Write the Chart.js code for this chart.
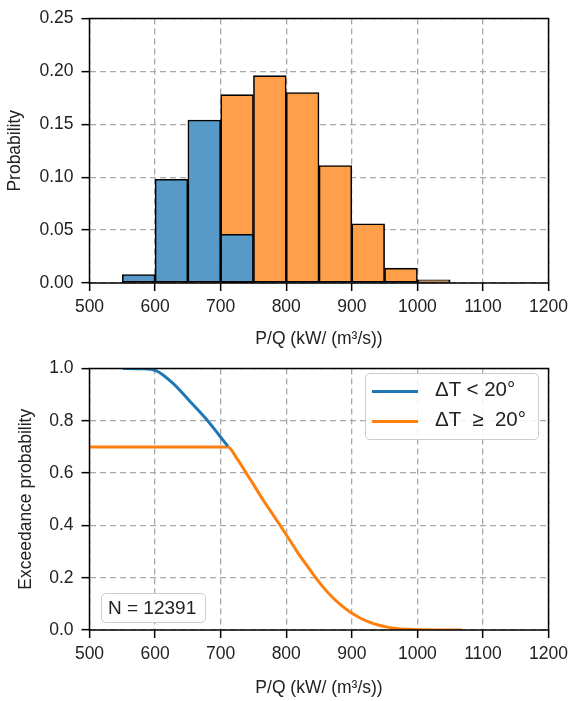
<!DOCTYPE html>
<html>
<head>
<meta charset="utf-8">
<script src="https://cdn.jsdelivr.net/npm/chart.js@4.4.0/dist/chart.umd.min.js"></script>
<style>
  body { margin: 0; background: #fff; width: 574px; height: 701px; overflow: hidden; position: relative; font-family: "Liberation Sans", Arial, sans-serif; color: #222; }
  #histCanvas { position: absolute; left: 0; top: 0; }
  #exceedCanvas { position: absolute; left: 0; top: 350px; }
  .box { position: absolute; border: 1.5px solid #ccc; border-radius: 5px; background: rgba(255,255,255,0.85); box-sizing: border-box; }
  .legend-item { position: absolute; left: 0; font-size: 20.5px; white-space: pre; }
  .legend-line { position: absolute; width: 46px; height: 3.5px; }
</style>
</head>
<body>
<canvas id="histCanvas" width="574" height="350"></canvas>
<canvas id="exceedCanvas" width="574" height="351"></canvas>

<div class="box" id="legendBox" style="left:365px; top:373px; width:174px; height:67px;"></div>
<div class="box" style="left:101px; top:593px; width:105px; height:30px; font-size:19px; line-height:27px; padding-left:6px;">N = 12391</div>

<script>
// Histogram bin centres (P/Q, kW/(m3/s)), bin width 50
const binsLow = [575, 625, 675, 725];
const probLow = [0.008, 0.098, 0.154, 0.046];
const binsHigh = [725, 775, 825, 875, 925, 975, 1025];
const probHigh = [0.178, 0.196, 0.180, 0.111, 0.056, 0.014, 0.003];

// Exceedance curves
const pqLow = [551, 580, 602, 627, 653, 678, 698, 711];
const exLow = [1.0, 0.999, 0.991, 0.944, 0.875, 0.807, 0.744, 0.703];
const pqHigh = [500, 711, 725, 739, 750, 764, 778, 792, 805, 817, 830, 842, 856, 870, 884, 898, 912, 926, 940, 954, 968, 984, 1004, 1068];
const exHigh = [0.70, 0.70, 0.655, 0.60, 0.557, 0.50, 0.448, 0.395, 0.345, 0.298, 0.252, 0.21, 0.165, 0.126, 0.094, 0.068, 0.047, 0.031, 0.019, 0.011, 0.006, 0.003, 0.001, 0.0];

const labelLow = 'ΔT < 20°';
const labelHigh = 'ΔT  ≥  20°';
const xTitle = 'P/Q (kW/ (m³/s))';

const BLUE = '#1f77b4';
const ORANGE = '#ff7f0e';
const FONT = { family: '"Liberation Sans", Arial, sans-serif', size: 17.5 };

Chart.defaults.color = '#222';
Chart.defaults.font = FONT;

// black box around the plot area
const framePlugin = {
  id: 'frame',
  afterDatasetsDraw(chart) {
    const a = chart.chartArea;
    const ctx = chart.ctx;
    ctx.save();
    ctx.strokeStyle = '#000';
    ctx.lineWidth = 1.5;
    ctx.strokeRect(a.left, a.top, a.right - a.left, a.bottom - a.top);
    ctx.restore();
  }
};

function zip(xs, ys) {
  return xs.map((x, i) => ({ x: x, y: ys[i] }));
}

function axisGrid() {
  return {
    color: '#a8a8a8',
    lineWidth: 1.3,
    tickLength: 8,
    tickColor: '#000',
    tickWidth: 1.5,
    tickBorderDash: []
  };
}

function xAxis(height, titlePad) {
  return {
    type: 'linear',
    min: 500,
    max: 1200,
    offset: false,
    grid: Object.assign(axisGrid(), { offset: false }),
    border: { display: false, dash: [6, 4] },
    ticks: { stepSize: 100, padding: 6, maxRotation: 0, callback: v => v },
    title: { display: true, text: xTitle, padding: titlePad },
    afterFit: s => { s.height = height; }
  };
}

function yAxis(max, step, digits, titlePad, title) {
  return {
    min: 0,
    max: max,
    grid: axisGrid(),
    border: { display: false, dash: [6, 4] },
    ticks: { stepSize: step, padding: 8, callback: v => v.toFixed(digits) },
    title: { display: true, text: title, padding: titlePad },
    afterFit: s => { s.width = 89.5; }
  };
}

// Probability histogram
function initializeHistogram() {
  new Chart(document.getElementById('histCanvas'), {
    type: 'bar',
    data: {
      datasets: [
        {
          label: labelLow,
          data: zip(binsLow, probLow),
          backgroundColor: '#5799c7',
          borderColor: '#000',
          borderWidth: 1.6,
          borderSkipped: false
        },
        {
          label: labelHigh,
          data: zip(binsHigh, probHigh),
          backgroundColor: '#ff9f4a',
          borderColor: '#000',
          borderWidth: 1.6,
          borderSkipped: false
        }
      ]
    },
    options: {
      responsive: false,
      animation: false,
      grouped: false,
      barPercentage: 1,
      categoryPercentage: 1,
      layout: { padding: { top: 15, right: 24, left: 0, bottom: 0 } },
      plugins: { legend: { display: false }, tooltip: { enabled: false } },
      scales: {
        x: xAxis(67, { top: 0, bottom: 0 }),
        y: yAxis(0.25, 0.05, 2, { top: 5, bottom: 0 }, 'Probability')
      }
    },
    plugins: [framePlugin]
  });
}

// Exceedance probability curves
function initializeExceedance() {
  const chart = new Chart(document.getElementById('exceedCanvas'), {
    type: 'line',
    data: {
      datasets: [
        {
          label: labelLow,
          data: zip(pqLow, exLow),
          borderColor: BLUE,
          borderWidth: 3,
          pointRadius: 0,
          cubicInterpolationMode: 'monotone'
        },
        {
          label: labelHigh,
          data: zip(pqHigh, exHigh),
          borderColor: ORANGE,
          borderWidth: 3,
          pointRadius: 0,
          cubicInterpolationMode: 'monotone'
        }
      ]
    },
    options: {
      responsive: false,
      animation: false,
      layout: { padding: { top: 13.5, right: 24, left: 0, bottom: 0 } },
      plugins: { legend: { display: false }, tooltip: { enabled: false } },
      scales: {
        x: xAxis(71, { top: 0, bottom: 2 }),
        y: yAxis(1.0, 0.2, 1, { top: 15.5, bottom: 0 }, 'Exceedance probability')
      }
    },
    plugins: [framePlugin]
  });

  // legend inside the plot, built from the datasets
  const box = document.getElementById('legendBox');
  chart.data.datasets.forEach((ds, i) => {
    const line = document.createElement('div');
    line.className = 'legend-line';
    line.style.background = ds.borderColor;
    line.style.left = '6px';
    line.style.top = (15.5 + i * 30) + 'px';
    box.appendChild(line);
    const txt = document.createElement('div');
    txt.className = 'legend-item';
    txt.textContent = ds.label;
    txt.style.left = '69px';
    txt.style.top = (3 + i * 30) + 'px';
    box.appendChild(txt);
  });
}

initializeHistogram();
initializeExceedance();
</script>
</body>
</html>
